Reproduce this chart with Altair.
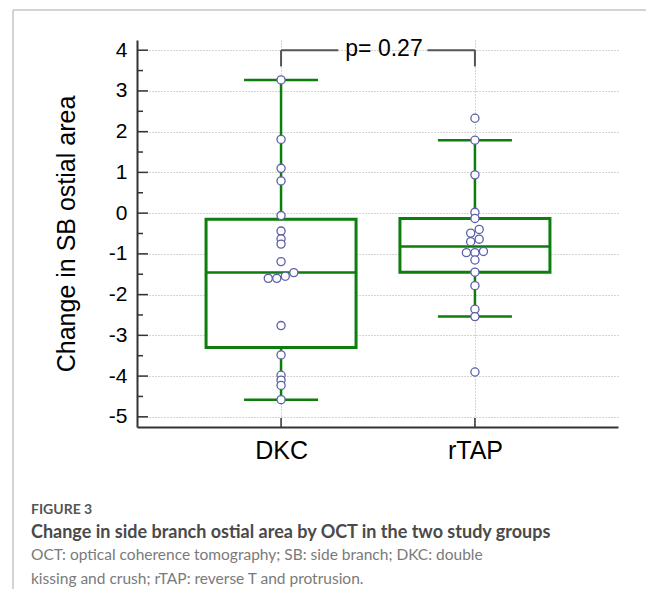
import altair as alt
import pandas as pd

# ---------------- data ----------------
groups = ["DKC", "rTAP"]
dkc_values = [3.27, 1.81, 1.10, 0.79, -0.06, -0.44, -0.63, -0.76, -1.19, -1.46,
              -1.55, -1.60, -1.60, -2.76, -3.48, -3.98, -4.10, -4.23, -4.58]
rtap_values = [2.33, 1.79, 0.94, 0.02, -0.13, -0.40, -0.49, -0.64, -0.70, -0.94,
               -0.97, -0.97, -1.15, -1.45, -1.78, -2.36, -2.54, -3.90]
box_q1 = [-3.30, -1.45]
box_median = [-1.46, -0.82]
box_q3 = [-0.15, -0.13]
whisker_low = [-4.58, -2.54]
whisker_high = [3.27, 1.79]
p_text = "p= 0.27"
y_tick_values = [-5, -4, -3, -2, -1, 0, 1, 2, 3, 4]
y_minor_values = [-4.5, -3.5, -2.5, -1.5, -0.5, 0.5, 1.5, 2.5, 3.5]
y_title = "Change in SB ostial area"
caption_label = "FIGURE 3"
caption_title = "Change in side branch ostial area by OCT in the two study groups"
caption_lines = ["OCT: optical coherence tomography; SB: side branch; DKC: double",
                 "kissing and crush; rTAP: reverse T and protrusion."]

# ---------------- layout / style ----------------
W, H = 481, 387
X_DOMAIN = [0.2828, 2.7121]
Y_DOMAIN = [-5.25, 4.25]
PX_PER_X = W / (X_DOMAIN[1] - X_DOMAIN[0])
GREEN = "#0d7d0d"
DOT = "#5c5fa8"
AXIS_COL = "#333333"
FONT = "Liberation Sans"
CAP_FONT = "Lato"

x_scale = alt.Scale(domain=X_DOMAIN, nice=False, zero=False)
y_scale = alt.Scale(domain=Y_DOMAIN, nice=False, zero=False)

positions = [i + 1 for i in range(len(groups))]
label_expr = " : ".join(
    f"datum.value == {p} ? '{g}'" for p, g in zip(positions[:-1], groups[:-1])
) + f" : '{groups[-1]}'"

y_axis = alt.Axis(
    values=y_tick_values, labelExpr="datum.value + ''",
    grid=True, gridDash=[1, 2], gridColor="#a8a8a8", gridWidth=1,
    ticks=False, tickSize=0, labelPadding=10, labelFont=FONT, labelFontSize=21,
    labelColor="black", domainColor=AXIS_COL, domainWidth=2,
    title=y_title, titleFont=FONT, titleFontSize=25, titleFontWeight="normal",
    titleColor="black", titlePadding=29,
)
x_axis = alt.Axis(
    values=positions, labelExpr=label_expr, grid=True, gridDash=[1, 2],
    gridColor="#a8a8a8", gridWidth=1, ticks=False, tickSize=0, labelPadding=11,
    labelFont=FONT, labelFontSize=25, labelColor="black", domainColor=AXIS_COL,
    domainWidth=2, title=None,
)


def X(field):
    return alt.X(field, scale=x_scale, axis=x_axis)


def Y(field):
    return alt.Y(field, scale=y_scale, axis=y_axis)


def swarm_offsets(vals, gap=0.11, step=8.7):
    """Spread (nearly) coincident points sideways, like the beeswarm in the figure."""
    order = sorted(range(len(vals)), key=lambda i: -vals[i])
    clusters = []
    for i in order:
        if clusters and vals[clusters[-1][-1]] - vals[i] < gap:
            clusters[-1].append(i)
        else:
            clusters.append([i])
    off = [0.0] * len(vals)
    for cl in clusters:
        k = len(cl)
        for j, i in enumerate(cl):
            off[i] = ((k - 1) / 2 - j) * step
    return off


rows = []
for gi, vals in enumerate([dkc_values, rtap_values]):
    offs = swarm_offsets(vals)
    for v, o in zip(vals, offs):
        rows.append({"group": groups[gi], "pos": positions[gi] + o / PX_PER_X, "value": v})
points_df = pd.DataFrame(rows)

box_df = pd.DataFrame({
    "group": groups, "pos": positions, "q1": box_q1, "median": box_median,
    "q3": box_q3, "lo": whisker_low, "hi": whisker_high,
})

whisk = alt.Chart(box_df).mark_rule(color=GREEN, strokeWidth=2.5).encode(
    x=X("pos:Q"), y=Y("lo:Q"), y2="hi:Q",
)
box = alt.Chart(box_df).mark_bar(size=150, fill="white", stroke=GREEN, strokeWidth=3).encode(
    x=X("pos:Q"), y=Y("q1:Q"), y2="q3:Q",
)
med = alt.Chart(box_df).mark_tick(orient="horizontal", size=150, thickness=2.5, color=GREEN, opacity=1).encode(
    x=X("pos:Q"), y=Y("median:Q"),
)
cap_lo = alt.Chart(box_df).mark_tick(orient="horizontal", size=74, thickness=2.5, color=GREEN, opacity=1).encode(
    x=X("pos:Q"), y=Y("lo:Q"),
)
cap_hi = alt.Chart(box_df).mark_tick(orient="horizontal", size=74, thickness=2.5, color=GREEN, opacity=1).encode(
    x=X("pos:Q"), y=Y("hi:Q"),
)
pts = alt.Chart(points_df).mark_point(
    shape="circle", size=66, filled=True, fill="white", stroke=DOT, strokeWidth=1.3, opacity=1
).encode(x=X("pos:Q"), y=Y("value:Q"))

# p-value bracket
mid = sum(positions) / 2
bracket_h = pd.DataFrame({
    "x1": [positions[0], mid + 0.255], "x2": [mid - 0.205, positions[1]],
    "y": [4.0, 4.0],
})
bracket_v = pd.DataFrame({"x1": positions, "y": [4.0, 4.0], "y2": [3.6, 3.6]})
br_h = alt.Chart(bracket_h).mark_rule(color="#555555", strokeWidth=2).encode(
    x=X("x1:Q"), x2="x2:Q", y=Y("y:Q"),
)
br_v = alt.Chart(bracket_v).mark_rule(color="#555555", strokeWidth=2).encode(
    x=X("x1:Q"), y=Y("y:Q"), y2="y2:Q",
)
p_lab = alt.Chart(pd.DataFrame({"x1": [mid], "y": [4.0], "t": [p_text]})).mark_text(
    font=FONT, fontSize=23, color="black", baseline="middle", align="center", dx=6, dy=-1
).encode(x=X("x1:Q"), y=Y("y:Q"), text="t:N")

# inward axis ticks
major = alt.Chart(pd.DataFrame({"y": y_tick_values})).mark_rule(color=AXIS_COL, strokeWidth=1.5).encode(
    y=Y("y:Q"), x=alt.value(0), x2=alt.value(11),
)
minor = alt.Chart(pd.DataFrame({"y": y_minor_values})).mark_rule(color=AXIS_COL, strokeWidth=1.5).encode(
    y=Y("y:Q"), x=alt.value(0), x2=alt.value(6),
)
xt = alt.Chart(pd.DataFrame({"x1": positions})).mark_rule(color=AXIS_COL, strokeWidth=1.5).encode(
    x=X("x1:Q"), y=alt.value(H - 9), y2=alt.value(H),
)

# figure frame + caption
frame_top = alt.Chart(pd.DataFrame({"a": [0]})).mark_rule(color="#c4c4c4", strokeWidth=1.5).encode(
    x=alt.value(-124), x2=alt.value(W + 40), y=alt.value(-30),
)
frame_left = alt.Chart(pd.DataFrame({"a": [0]})).mark_rule(color="#c4c4c4", strokeWidth=1.5).encode(
    x=alt.value(-124), y=alt.value(-30), y2=alt.value(H + 170),
)


def cap_text(text, y, size, color, weight="normal"):
    return alt.Chart(pd.DataFrame({"t": [text]})).mark_text(
        align="left", baseline="alphabetic", font=CAP_FONT, fontSize=size,
        color=color, fontWeight=weight,
    ).encode(text="t:N", x=alt.value(-106), y=alt.value(y))


cap1 = cap_text(caption_label, 474, 14, "#555555", "bold")
cap2 = cap_text(caption_title, 498, 18, "#4a4a4a", "bold")
cap3 = cap_text(caption_lines[0], 520, 15.5, "#7a7a7a")
cap4 = cap_text(caption_lines[1], 544, 15.5, "#7a7a7a")

chart = alt.layer(
    whisk, box, med, cap_lo, cap_hi, pts, br_h, br_v, p_lab, major, minor, xt,
    frame_top, frame_left, cap1, cap2, cap3, cap4,
).properties(
    width=W, height=H,
    autosize=alt.AutoSizeParams(type="none"),
    padding={"left": 129, "top": 32, "right": 28, "bottom": 162},
    background="white",
).configure_view(strokeWidth=0)

chart.save("out.html", embed_options={"renderer": "svg", "actions": False})
